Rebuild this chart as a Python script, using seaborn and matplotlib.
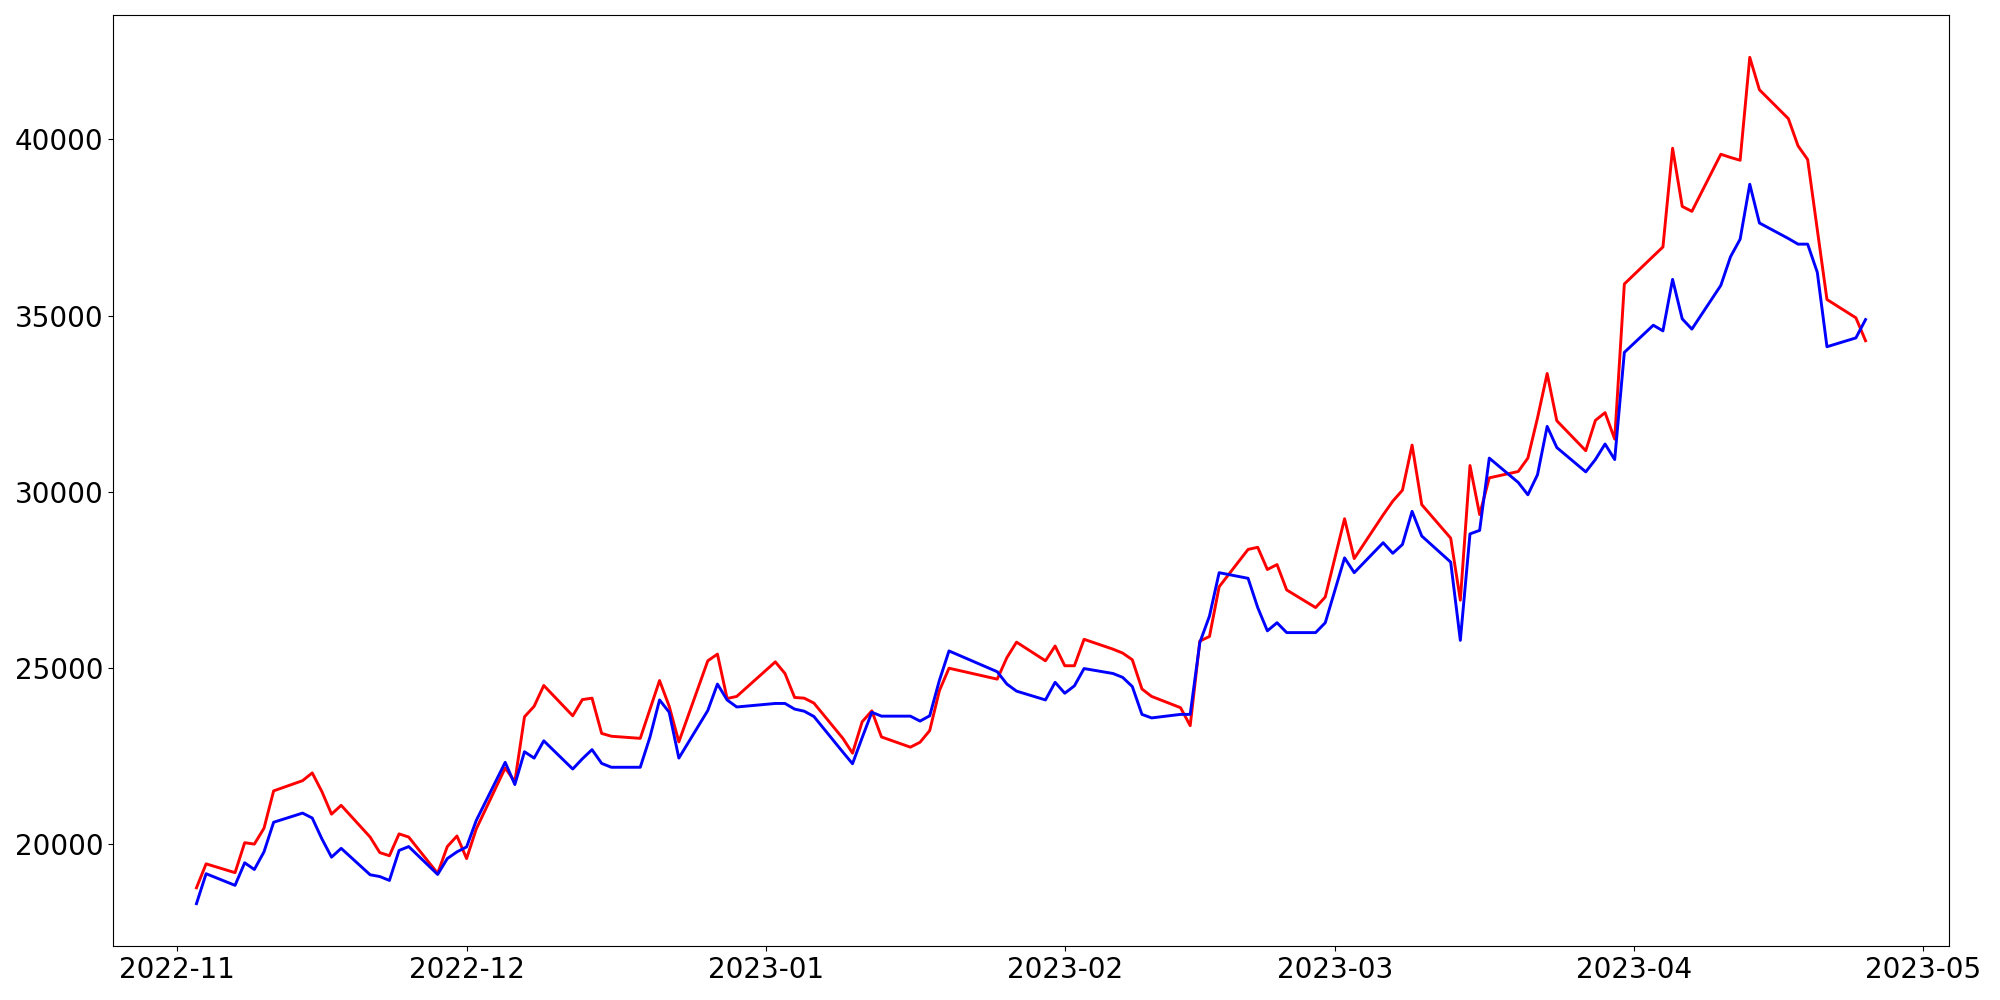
import matplotlib
matplotlib.use("Agg")
import matplotlib.pyplot as plt
import seaborn as sns
import pandas as pd

dates = [
    "2022-11-03", "2022-11-04", "2022-11-07", "2022-11-08", "2022-11-09", "2022-11-10", "2022-11-11",
    "2022-11-14", "2022-11-15", "2022-11-16", "2022-11-17", "2022-11-18", "2022-11-21", "2022-11-22",
    "2022-11-23", "2022-11-24", "2022-11-25", "2022-11-28", "2022-11-29", "2022-11-30",
    "2022-12-01", "2022-12-02", "2022-12-05", "2022-12-06", "2022-12-07", "2022-12-08", "2022-12-09",
    "2022-12-12", "2022-12-13", "2022-12-14", "2022-12-15", "2022-12-16", "2022-12-19", "2022-12-20",
    "2022-12-21", "2022-12-22", "2022-12-23", "2022-12-26", "2022-12-27", "2022-12-28", "2022-12-29",
    "2023-01-02", "2023-01-03", "2023-01-04", "2023-01-05", "2023-01-06", "2023-01-09", "2023-01-10",
    "2023-01-11", "2023-01-12", "2023-01-13", "2023-01-16", "2023-01-17", "2023-01-18", "2023-01-19",
    "2023-01-20", "2023-01-25", "2023-01-26", "2023-01-27", "2023-01-30", "2023-01-31",
    "2023-02-01", "2023-02-02", "2023-02-03", "2023-02-06", "2023-02-07", "2023-02-08", "2023-02-09",
    "2023-02-10", "2023-02-13", "2023-02-14", "2023-02-15", "2023-02-16", "2023-02-17", "2023-02-20",
    "2023-02-21", "2023-02-22", "2023-02-23", "2023-02-24", "2023-02-27", "2023-02-28",
    "2023-03-02", "2023-03-03", "2023-03-06", "2023-03-07", "2023-03-08", "2023-03-09", "2023-03-10",
    "2023-03-13", "2023-03-14", "2023-03-15", "2023-03-16", "2023-03-17", "2023-03-20", "2023-03-21",
    "2023-03-22", "2023-03-23", "2023-03-24", "2023-03-27", "2023-03-28", "2023-03-29", "2023-03-30",
    "2023-03-31",
    "2023-04-03", "2023-04-04", "2023-04-05", "2023-04-06", "2023-04-07", "2023-04-10", "2023-04-11",
    "2023-04-12", "2023-04-13", "2023-04-14", "2023-04-17", "2023-04-18", "2023-04-19", "2023-04-20",
    "2023-04-21", "2023-04-24", "2023-04-25",
]

red_values = [
    18770, 19450, 19200, 20050, 20010, 20460, 21520, 21810, 22030, 21500, 20860, 21110, 20210, 19770,
    19680, 20300, 20210, 19180, 19940, 20240,
    19600, 20440, 22170, 21780, 23620, 23920, 24510, 23650, 24110, 24150, 23150, 23070, 23010, 23830,
    24650, 23920, 22910, 25210, 25400, 24140, 24200,
    25180, 24850, 24170, 24150, 24010, 23010, 22590, 23480, 23790, 23050, 22760, 22900, 23230, 24360,
    25000, 24690, 25300, 25740, 25210, 25630,
    25070, 25070, 25820, 25540, 25430, 25240, 24410, 24200, 23880, 23370, 25770, 25900, 27310, 28370,
    28430, 27800, 27940, 27220, 26720, 27020,
    29240, 28110, 29350, 29740, 30050, 31330, 29640, 28690, 26930, 30750, 29360, 30400, 30580, 30960,
    32100, 33360, 32020, 31170, 32030, 32250, 31500, 35900,
    36690, 36950, 39750, 38100, 37960, 39580, 39490, 39410, 42330, 41410, 40590, 39820, 39430, 37440,
    35460, 34940, 34290,
]

blue_values = [
    18320, 19170, 18840, 19480, 19290, 19790, 20630, 20890, 20750, 20160, 19640, 19890, 19140, 19090,
    18980, 19830, 19940, 19150, 19600, 19790,
    19930, 20680, 22330, 21700, 22630, 22450, 22940, 22140, 22430, 22690, 22300, 22190, 22190, 23040,
    24100, 23750, 22450, 23800, 24550, 24100, 23900,
    24000, 24000, 23840, 23780, 23630, 22620, 22290, 23030, 23750, 23640, 23640, 23500, 23650, 24650,
    25490, 24900, 24550, 24350, 24100, 24600,
    24290, 24500, 24990, 24850, 24740, 24480, 23690, 23590, 23690, 23690, 25730, 26480, 27710, 27550,
    26720, 26060, 26290, 26010, 26010, 26290,
    28130, 27710, 28560, 28260, 28510, 29450, 28750, 28010, 25790, 28810, 28910, 30960, 30270, 29920,
    30490, 31860, 31260, 30570, 30920, 31360, 30920, 33960,
    34730, 34570, 36030, 34910, 34620, 35860, 36670, 37170, 38730, 37630, 37190, 37030, 37030, 36230,
    34120, 34370, 34890,
]

df = pd.DataFrame({
    "date": pd.to_datetime(dates),
    "red": red_values,
    "blue": blue_values,
})

fig = plt.figure(figsize=(20, 10), dpi=100)
ax = fig.add_axes([0.0565, 0.054, 0.918, 0.931])

sns.lineplot(data=df, x="date", y="red", color="red", linewidth=2.1, ax=ax)
sns.lineplot(data=df, x="date", y="blue", color="blue", linewidth=2.1, ax=ax)

ax.set_xlabel("")
ax.set_ylabel("")
ax.tick_params(axis="both", labelsize=20)

fig.savefig("out.png", dpi=100)
